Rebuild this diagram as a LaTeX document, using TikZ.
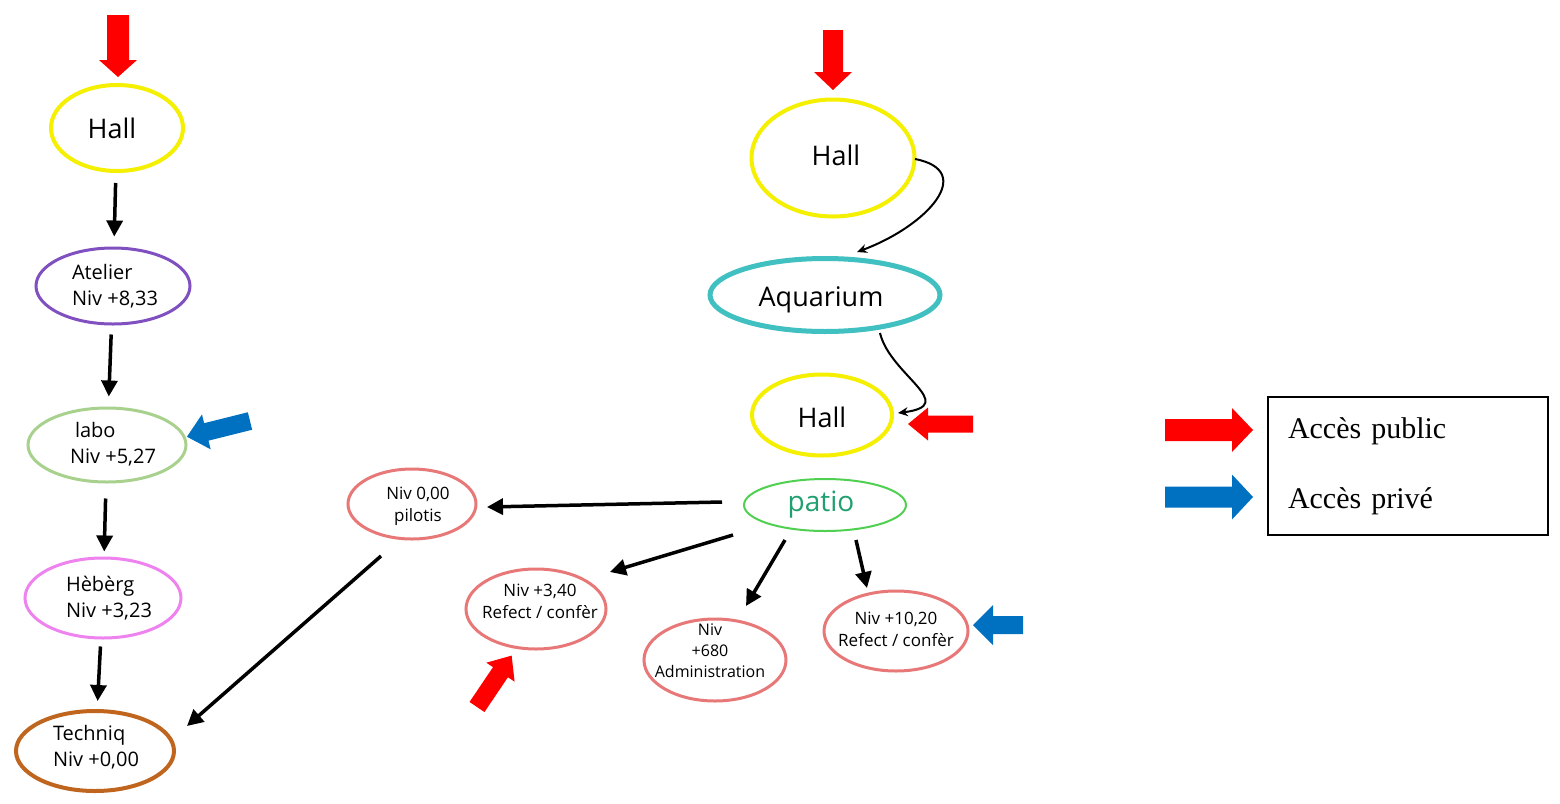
\documentclass[tikz,border=0pt]{standalone}
\usepackage{fontspec}
\setmainfont{Open Sans}
\newfontfamily\legendfont{Liberation Serif}
\usetikzlibrary{shapes.geometric,arrows.meta,calc}

\definecolor{hallyellow}{HTML}{F5EF00}
\definecolor{atelierpurple}{HTML}{8050C0}
\definecolor{labogreen}{HTML}{A9D18E}
\definecolor{hebergpink}{HTML}{EE82EE}
\definecolor{techbrown}{HTML}{C0651E}
\definecolor{aquateal}{HTML}{40C0C0}
\definecolor{patioline}{HTML}{50D050}
\definecolor{patiotext}{HTML}{20A070}
\definecolor{levelpink}{HTML}{E87878}
\definecolor{pubred}{HTML}{FF0000}
\definecolor{privblue}{HTML}{0070C0}

\tikzset{
  room/.style={ellipse, draw, inner sep=0pt},
  sz/.style 2 args={minimum width=#1*0.5pt, minimum height=#2*0.5pt},
  bigtxt/.style={font=\fontsize{13.5}{16}\selectfont},
  midtxt/.style={font=\fontsize{10}{12.8}\selectfont, align=left},
  smalltxt/.style={font=\fontsize{8.5}{11}\selectfont, align=center},
  conn/.style={line width=1.75pt, -{Triangle[length=8pt,width=8pt]}},
  flow/.style={line width=1pt, -{Stealth[length=5pt,width=4.5pt]}},
  % filled block arrow drawn from its tail along +x:
  % colour, length, shaft half width, head half width, head length
  pics/blockarrow/.style n args={5}{code={
    \fill[#1] (0,-#3) -- ({#2-#5},-#3) -- ({#2-#5},-#4) -- (#2,0)
      -- ({#2-#5},#4) -- ({#2-#5},#3) -- (0,#3) -- cycle;
  }},
}

\begin{document}
\begin{tikzpicture}[x=0.5pt,y=-0.5pt]
\fill[white] (0,0) rectangle (1560,804);
\useasboundingbox (0,0) rectangle (1560,804);

% ---- left column: vertical sequence ----
\node[room, sz={132}{86}, draw=hallyellow, line width=2pt,
  label={[bigtxt, xshift=-2.5pt]center:{Hall}}] (hallA) at (117,128) {};
\node[room, sz={154}{76}, draw=atelierpurple, line width=1.5pt,
  label={[midtxt, xshift=1pt]center:{Atelier\\Niv +8,33}}] (atelier) at (113,286) {};
\node[room, sz={158}{74}, draw=labogreen, line width=1.5pt,
  label={[midtxt, xshift=3pt, yshift=0.5pt]center:{\hspace{2.5pt}labo\\Niv +5,27}}] (labo) at (107,445) {};
\node[room, sz={156}{80}, draw=hebergpink, line width=1.5pt,
  label={[midtxt, xshift=3pt]center:{Hèbèrg\\Niv +3,23}}] (heberg) at (103,598) {};
\node[room, sz={158}{80}, draw=techbrown, line width=2pt,
  label={[midtxt, xshift=0.5pt, yshift=2pt]center:{Techniq\\Niv +0,00}}] (techniq) at (95,751) {};

\draw[conn, shorten <=5pt, shorten >=5pt] (hallA) -- (atelier);
\draw[conn, shorten <=4.5pt, shorten >=5pt] (atelier) -- (labo);
\draw[conn, shorten <=7.5pt, shorten >=2.5pt] (labo) -- (heberg);
\draw[conn, shorten <=3.5pt, shorten >=4pt] (heberg) -- (techniq);

% ---- central column ----
\node[room, sz={163}{117}, draw=hallyellow, line width=2pt,
  label={[bigtxt, xshift=1.5pt, yshift=1.5pt]center:{Hall}}] (hallB) at (833,158) {};
\node[room, sz={230}{73}, draw=aquateal, line width=2.5pt,
  label={[bigtxt, xshift=-2pt, yshift=-2.5pt]center:{Aquarium}}] (aquarium) at (825,295) {};
\node[room, sz={140}{81}, draw=hallyellow, line width=2pt,
  label={[bigtxt, yshift=-1pt]center:{Hall}}] (hallC) at (822,415) {};
\node[room, sz={162}{52}, draw=patioline, line width=1pt,
  label={[text=patiotext, font=\fontsize{14}{16}\selectfont, xshift=-2pt]center:{patio}}] (patio) at (825,505) {};

\node[room, sz={128}{70}, draw=levelpink, line width=1.5pt,
  label={[smalltxt, xshift=3pt, yshift=-1pt]center:{Niv 0,00\\pilotis}}] (pilotis) at (412,504) {};
\node[room, sz={140}{80}, draw=levelpink, line width=1.5pt,
  label={[smalltxt, xshift=2pt, yshift=4pt]center:{Niv +3,40\\Refect / confèr}}] (n340) at (536,609) {};
\node[room, sz={142}{82}, draw=levelpink, line width=1.5pt,
  label={[smalltxt, font=\fontsize{8}{10.5}\selectfont, xshift=-2.5pt, yshift=4.5pt]center:{Niv\\+680\\Administration}}] (admin) at (715,660) {};
\node[room, sz={144}{80}, draw=levelpink, line width=1.5pt,
  label={[smalltxt, yshift=1pt]center:{Niv +10,20\\Refect / confèr}}] (n1020) at (896,631) {};

\draw[flow] ($(hallB)+(82,1)$) .. controls +(62,12) and +(70,-26) .. ($(aquarium)+(32,-43)$);
\draw[flow] ($(aquarium)+(55,38)$) .. controls +(10,42) and +(62,-8) .. ($(hallC)+(76,-2)$);

\draw[conn] ($(patio)+(-103,-3)$) -- ($(pilotis)+(75,3)$);
\draw[conn] ($(patio)+(-92,30)$) -- ($(n340)+(74,-37)$);
\draw[conn] ($(patio)+(-40,35)$) -- ($(admin)+(31,-54)$);
\draw[conn] ($(patio)+(31,35)$) -- ($(n1020)+(-29,-43)$);
\draw[conn] ($(pilotis)+(-31,52)$) -- ($(techniq)+(92,-25)$);

% ---- access markers ----
\pic[rotate=-90] at (118,15) {blockarrow={pubred}{62}{11}{19}{17}};
\pic[rotate=194] at (250,421) {blockarrow={privblue}{65}{9}{18}{20}};
\pic[rotate=-90] at (833,30) {blockarrow={pubred}{60}{10}{19}{18}};
\pic[rotate=180] at (973,424) {blockarrow={pubred}{65}{8.5}{16.5}{20}};
\pic[rotate=56] at (477,707) {blockarrow={pubred}{62}{9}{17}{20}};
\pic[rotate=180] at (1023,625) {blockarrow={privblue}{50}{9}{20}{20}};

% ---- legend ----
\pic at (1165,430) {blockarrow={pubred}{88}{11}{22}{21}};
\pic at (1165,497) {blockarrow={privblue}{88}{10.5}{22.5}{21}};
\node[draw, line width=0.6pt, inner xsep=10pt, inner ysep=0pt, text width=120pt,
      minimum height=69pt, align=left, font=\legendfont\fontsize{15}{35}\selectfont]
  (legend) at (1408,466) {Accès public\\Accès privé};
\end{tikzpicture}
\end{document}
